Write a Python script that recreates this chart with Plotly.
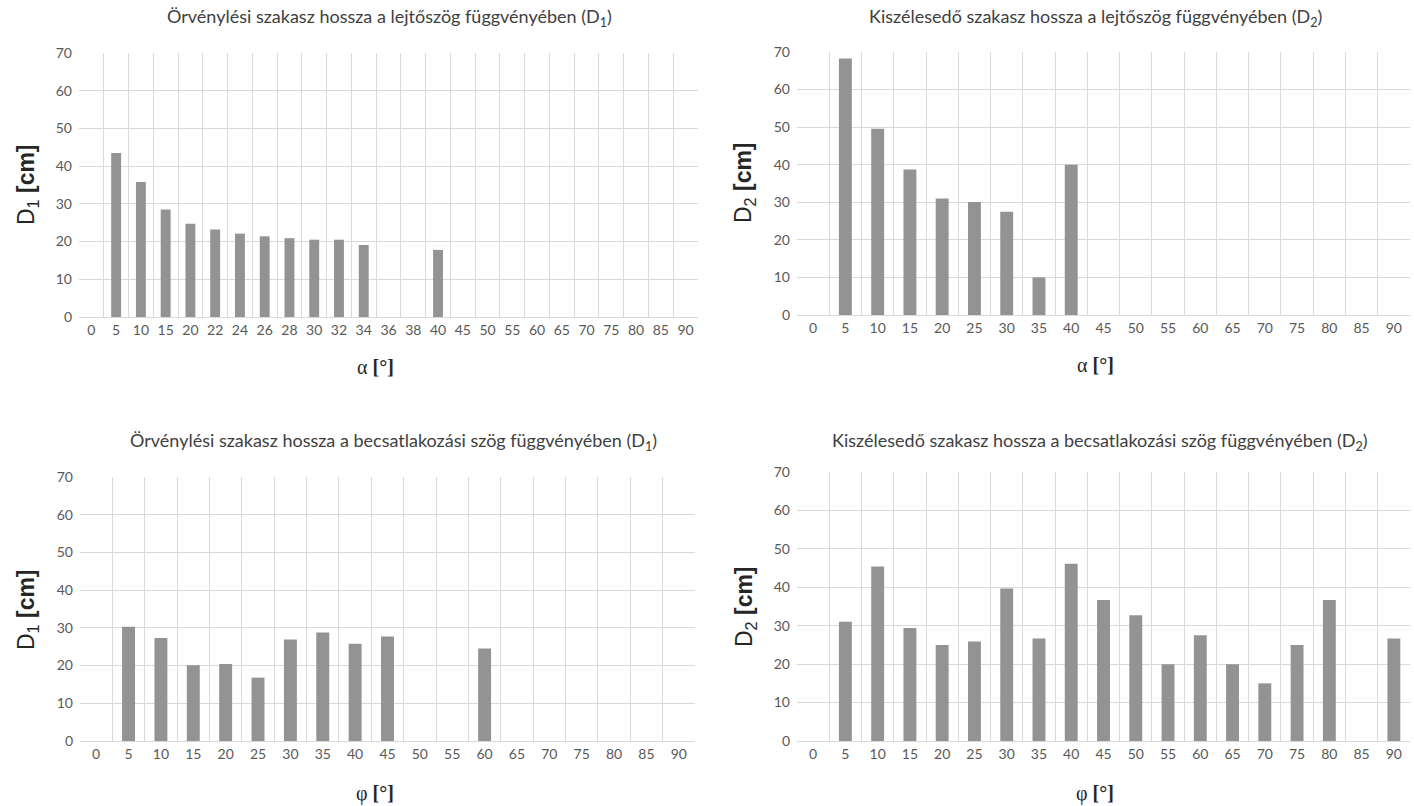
import plotly.graph_objects as go

# ---- data ----
alpha_cats_d1 = ["0", "5", "10", "15", "20", "22", "24", "26", "28", "30", "32", "34", "36", "38",
                 "40", "45", "50", "55", "60", "65", "70", "75", "80", "85", "90"]
alpha_d1 = [None, 43.5, 35.8, 28.5, 24.7, 23.2, 22.1, 21.4, 20.9, 20.5, 20.5, 19.1, None, None,
            17.8, None, None, None, None, None, None, None, None, None, None]

cats_5 = ["0", "5", "10", "15", "20", "25", "30", "35", "40", "45", "50", "55", "60", "65",
          "70", "75", "80", "85", "90"]
alpha_d2 = [None, 68.3, 49.6, 38.7, 31.0, 30.1, 27.5, 10.0, 40.0, None, None, None, None, None,
            None, None, None, None, None]
phi_d1 = [None, 30.3, 27.3, 20.1, 20.4, 16.8, 26.9, 28.8, 25.8, 27.7, None, None, 24.5, None,
          None, None, None, None, None]
phi_d2 = [None, 31.0, 45.4, 29.4, 25.0, 25.9, 39.7, 26.7, 46.1, 36.7, 32.7, 20.0, 27.5, 20.0,
          15.0, 25.0, 36.7, None, 26.7]

titles = [
    "Örvénylési szakasz hossza a lejtőszög függvényében (D<sub>1</sub>)",
    "Kiszélesedő szakasz hossza a lejtőszög függvényében (D<sub>2</sub>)",
    "Örvénylési szakasz hossza a becsatlakozási szög függvényében (D<sub>1</sub>)",
    "Kiszélesedő szakasz hossza a becsatlakozási szög függvényében (D<sub>2</sub>)",
]
ytitles = ["D<sub>1</sub> <b>[cm]</b>", "D<sub>2</sub> <b>[cm]</b>",
           "D<sub>1</sub> <b>[cm]</b>", "D<sub>2</sub> <b>[cm]</b>"]
xtitles = ["α <b>[°]</b>", "α <b>[°]</b>", "φ <b>[°]</b>", "φ <b>[°]</b>"]

W, H = 1414, 806
BAR = "#939393"
GRID = "#d9d9d9"
TICK = "#595959"
TFONT = "Lato"

# layout positions, in reference pixels (top-left origin)
panels = [
    dict(x=alpha_cats_d1, y=alpha_d1, px=(79, 698), py=(53, 317),
         title=(390, 18), xt=(375, 367), yt=(27, 185)),
    dict(x=cats_5, y=alpha_d2, px=(797, 1410), py=(52, 315),
         title=(1095, 18), xt=(1095, 365), yt=(745, 183)),
    dict(x=cats_5, y=phi_d1, px=(80, 695), py=(477, 741),
         title=(393, 442), xt=(375, 793), yt=(27, 610)),
    dict(x=cats_5, y=phi_d2, px=(797, 1410), py=(472, 741),
         title=(1100, 442), xt=(1095, 793), yt=(745, 607)),
]


def py2paper(v):
    return 1 - v / H


fig = go.Figure()
annotations = []
for i, p in enumerate(panels):
    n = "" if i == 0 else str(i + 1)
    fig.add_trace(go.Bar(x=p["x"], y=p["y"], marker_color=BAR, marker_line_width=0,
                         xaxis="x" + n, yaxis="y" + n, showlegend=False))
    xd = [p["px"][0] / W, p["px"][1] / W]
    yd = [py2paper(p["py"][1]), py2paper(p["py"][0])]
    fig.layout["xaxis" + n] = dict(
        domain=xd, anchor="y" + n, type="category", tickson="boundaries",
        categoryorder="array", categoryarray=p["x"], automargin=False,
        showgrid=True, gridcolor=GRID, gridwidth=1, ticks="", showline=True,
        linecolor=GRID, zeroline=False,
        tickfont=dict(family=TFONT, size=14, color=TICK), fixedrange=True)
    fig.layout["yaxis" + n] = dict(
        domain=yd, anchor="x" + n, range=[0, 70], dtick=10, showgrid=True,
        gridcolor=GRID, gridwidth=1, zeroline=False, showline=False, ticks="",
        ticklabelstandoff=6, automargin=False,
        tickfont=dict(family=TFONT, size=14, color=TICK), fixedrange=True)
    annotations.append(dict(text=titles[i], x=p["title"][0] / W, y=py2paper(p["title"][1]),
                            xref="paper", yref="paper", showarrow=False,
                            xanchor="center", yanchor="middle",
                            font=dict(family=TFONT, size=18, color="#404040")))
    annotations.append(dict(text=ytitles[i], x=p["yt"][0] / W, y=py2paper(p["yt"][1]),
                            xref="paper", yref="paper", showarrow=False, textangle=-90,
                            xanchor="center", yanchor="middle",
                            font=dict(family="Liberation Sans", size=23, color="#262626")))
    annotations.append(dict(text=xtitles[i], x=p["xt"][0] / W, y=py2paper(p["xt"][1]),
                            xref="paper", yref="paper", showarrow=False,
                            xanchor="center", yanchor="middle",
                            font=dict(family="Liberation Serif", size=20, color="#262626")))

fig.update_layout(width=W, height=H, margin=dict(l=0, r=0, t=0, b=0, autoexpand=False),
                  paper_bgcolor="white", plot_bgcolor="white", bargap=0.6,
                  annotations=annotations)
fig.write_html("out.html", config={"displayModeBar": False},
               post_script="document.body.style.margin='0';document.body.style.overflow='hidden';")
